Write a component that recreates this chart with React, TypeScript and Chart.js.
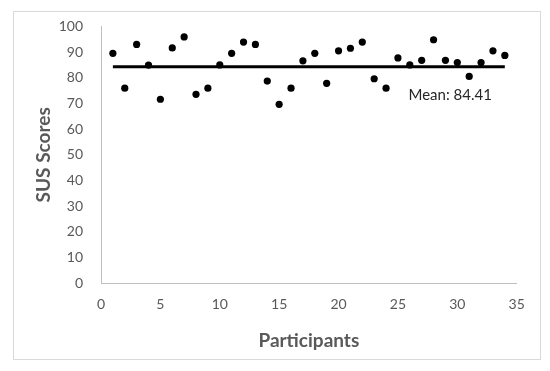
import React, { useEffect, useRef } from "react";
import { Chart, registerables } from "chart.js";

Chart.register(...registerables);

const participants = [
  1, 2, 3, 4, 5, 6, 7, 8, 9, 10, 11, 12, 13, 14, 15, 16, 17,
  18, 19, 20, 21, 22, 23, 24, 25, 26, 27, 28, 29, 30, 31, 32, 33, 34,
];
const susScores = [
  89.6, 76.0, 93.1, 85.0, 71.7, 91.7, 96.0, 73.6, 76.0, 85.1, 89.6, 94.0,
  93.1, 78.8, 69.7, 76.0, 86.7, 89.6, 77.9, 90.6, 91.6, 94.0, 79.7, 76.0,
  87.8, 85.1, 86.9, 94.9, 86.9, 86.0, 80.6, 86.0, 90.6, 88.8,
];
const meanValue = 84.41;
const meanLabel = "Mean: 84.41";
const meanLabelPos = { x: 29.4, y: 73.4 };
const xTitle = "Participants";
const yTitle = "SUS Scores";

const FONT = "Lato, 'Open Sans', sans-serif";
const GREY = "#595959";

export default function App() {
  const ref = useRef<HTMLCanvasElement | null>(null);

  useEffect(() => {
    if (!ref.current) return;
    const frame = {
      id: "frame",
      beforeDraw(chart: any) {
        const ctx = chart.ctx;
        ctx.save();
        ctx.fillStyle = "#ffffff";
        ctx.fillRect(0, 0, chart.width, chart.height);
        ctx.strokeStyle = "#d9d9d9";
        ctx.lineWidth = 1;
        ctx.strokeRect(13.5, 11.5, 527, 348);
        ctx.restore();
      },
      afterDatasetsDraw(chart: any) {
        const ctx = chart.ctx;
        const x = chart.scales.x.getPixelForValue(meanLabelPos.x);
        const y = chart.scales.y.getPixelForValue(meanLabelPos.y);
        ctx.save();
        ctx.fillStyle = "#262626";
        ctx.font = `15px ${FONT}`;
        ctx.textAlign = "center";
        ctx.textBaseline = "middle";
        ctx.fillText(meanLabel, x, y);
        ctx.restore();
      },
    };

    const chart = new Chart(ref.current, {
      type: "scatter",
      data: {
        datasets: [
          {
            type: "line",
            label: "Mean",
            data: [
              { x: participants[0], y: meanValue },
              { x: participants[participants.length - 1], y: meanValue },
            ],
            borderColor: "#000000",
            borderWidth: 3,
            pointRadius: 0,
            fill: false,
          },
          {
            label: "SUS",
            data: participants.map((p, i) => ({ x: p, y: susScores[i] })),
            backgroundColor: "#000000",
            borderColor: "#000000",
            borderWidth: 0,
            pointRadius: 3.6,
          },
        ],
      },
      options: {
        animation: false,
        responsive: false,
        devicePixelRatio: 1,
        layout: { padding: { left: 0, right: 33.3, top: 26.7, bottom: 0 } },
        plugins: {
          legend: { display: false },
          tooltip: { enabled: false },
        },
        scales: {
          x: {
            type: "linear",
            min: 0,
            max: 35,
            ticks: {
              stepSize: 5,
              color: GREY,
              padding: 13,
              font: { family: FONT, size: 14 },
            },
            grid: { display: true, drawOnChartArea: false, drawTicks: false },
            border: { display: true, color: "#bfbfbf", width: 1 },
            title: {
              display: true,
              text: xTitle,
              color: GREY,
              font: { family: FONT, size: 19, weight: "bold" },
              padding: { top: 0, bottom: 19 },
            },
            afterFit(scale: any) {
              scale.height = 88;
            },
          },
          y: {
            min: 0,
            max: 100,
            ticks: {
              stepSize: 10,
              color: GREY,
              padding: 18,
              font: { family: FONT, size: 14 },
            },
            grid: { display: true, drawOnChartArea: false, drawTicks: false },
            border: { display: true, color: "#bfbfbf", width: 1 },
            title: {
              display: true,
              text: yTitle,
              color: GREY,
              font: { family: FONT, size: 19, weight: "bold" },
              padding: { top: 32, bottom: 0 },
            },
            afterFit(scale: any) {
              scale.width = 101;
            },
          },
        },
      },
      plugins: [frame],
    } as any);
    return () => chart.destroy();
  }, []);

  return (
    <div style={{ position: "absolute", left: 0, top: 0, width: 550, height: 371 }}>
      <canvas ref={ref} width={550} height={371} style={{ width: 550, height: 371 }} />
    </div>
  );
}
